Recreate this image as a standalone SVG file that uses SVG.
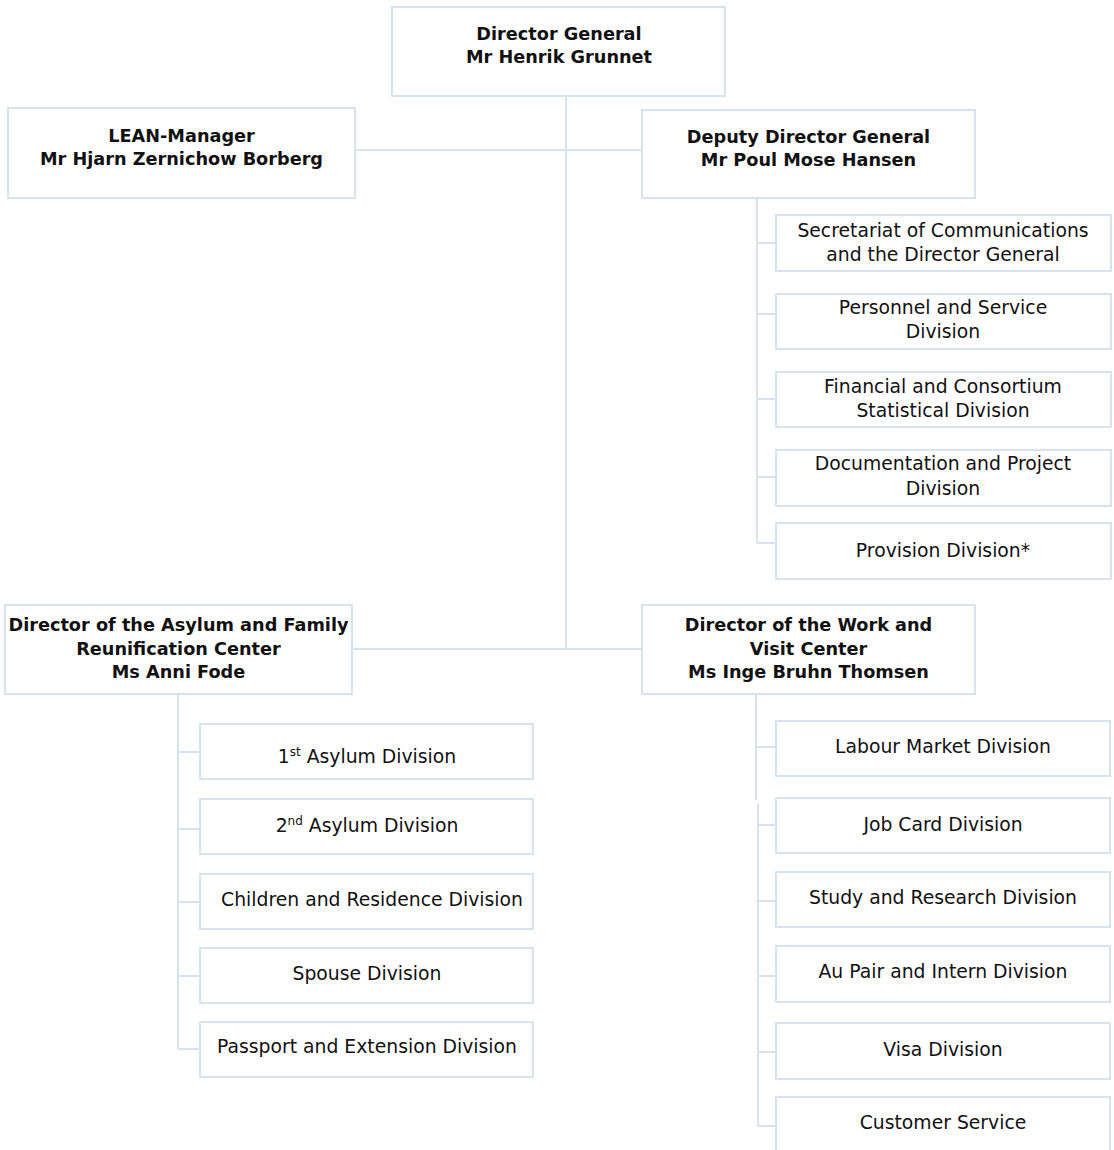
<svg xmlns="http://www.w3.org/2000/svg" width="1114" height="1150" viewBox="0 0 1114 1150">
<style>
.box{fill:#ffffff;stroke:#d5e4f0;stroke-width:2}
.ln{fill:none;stroke:#d5e4f0;stroke-width:2}
text{font-family:"DejaVu Sans","Verdana",sans-serif;fill:#111111;text-anchor:middle}
.b{font-weight:bold;font-size:17.7px}
.n{font-size:18.8px}
.sup{font-size:12px}
</style>
<rect width="1114" height="1150" fill="#ffffff"/>
<g id="connectors">
<path class="ln" d="M566 96V649"/>
<path class="ln" d="M355 150H642"/>
<path class="ln" d="M352 649H642"/>
<path class="ln" d="M757 198V543M757 243H776M757 314H778M757 399H776M757 477H776M757 543H776"/>
<path class="ln" d="M178 694V1049M178 752H200M178 829H200M178 902H200M178 976H200M178 1049H200"/>
<path class="ln" d="M756 694V800M758 804V1126M757 747H776M758 825H776M758 901H776M758 976H776M758 1052H776M758 1126H776"/>
</g>
<g id="director-general">
<rect class="box" x="392" y="7" width="333" height="89"/>
<text class="b" x="559" y="40">Director General</text>
<text class="b" x="559" y="63">Mr Henrik Grunnet</text>
</g>
<g id="lean-manager">
<rect class="box" x="8" y="108" width="347" height="90"/>
<text class="b" x="181.5" y="142">LEAN-Manager</text>
<text class="b" x="181.5" y="165">Mr Hjarn Zernichow Borberg</text>
</g>
<g id="deputy-director">
<rect class="box" x="642" y="110" width="333" height="88"/>
<text class="b" x="808.5" y="143">Deputy Director General</text>
<text class="b" x="808.5" y="166">Mr Poul Mose Hansen</text>
</g>
<g id="secretariat">
<rect class="box" x="776" y="215" width="335" height="56"/>
<text class="n" x="943" y="237">Secretariat of Communications</text>
<text class="n" x="943" y="261">and the Director General</text>
</g>
<g id="personnel">
<rect class="box" x="776" y="294" width="335" height="55"/>
<text class="n" x="943" y="314">Personnel and Service</text>
<text class="n" x="943" y="338">Division</text>
</g>
<g id="financial">
<rect class="box" x="776" y="372" width="335" height="55"/>
<text class="n" x="943" y="393">Financial and Consortium</text>
<text class="n" x="943" y="417">Statistical Division</text>
</g>
<g id="documentation">
<rect class="box" x="776" y="450" width="335" height="56"/>
<text class="n" x="943" y="470">Documentation and Project</text>
<text class="n" x="943" y="495">Division</text>
</g>
<g id="provision">
<rect class="box" x="776" y="523" width="335" height="56"/>
<text class="n" x="943" y="557">Provision Division*</text>
</g>
<g id="asylum-director">
<rect class="box" x="5" y="605" width="347" height="89"/>
<text class="b" x="178.5" y="631">Director of the Asylum and Family</text>
<text class="b" x="178.5" y="654.5">Reunification Center</text>
<text class="b" x="178.5" y="678">Ms Anni Fode</text>
</g>
<g id="work-director">
<rect class="box" x="642" y="605" width="333" height="89"/>
<text class="b" x="808.5" y="631">Director of the Work and</text>
<text class="b" x="808.5" y="654.5">Visit Center</text>
<text class="b" x="808.5" y="678">Ms Inge Bruhn Thomsen</text>
</g>
<g id="asylum-1">
<rect class="box" x="200" y="724" width="333" height="55"/>
<text class="n" x="367" y="763">1<tspan class="sup" dy="-7">st</tspan><tspan dy="7"> Asylum Division</tspan></text>
</g>
<g id="asylum-2">
<rect class="box" x="200" y="799" width="333" height="55"/>
<text class="n" x="367" y="832">2<tspan class="sup" dy="-7">nd</tspan><tspan dy="7"> Asylum Division</tspan></text>
</g>
<g id="children">
<rect class="box" x="200" y="874" width="333" height="55"/>
<text class="n" x="372" y="906">Children and Residence Division</text>
</g>
<g id="spouse">
<rect class="box" x="200" y="948" width="333" height="55"/>
<text class="n" x="367" y="980">Spouse Division</text>
</g>
<g id="passport">
<rect class="box" x="200" y="1022" width="333" height="55"/>
<text class="n" x="367" y="1053">Passport and Extension Division</text>
</g>
<g id="labour">
<rect class="box" x="776" y="721" width="334" height="55"/>
<text class="n" x="943" y="753">Labour Market Division</text>
</g>
<g id="job-card">
<rect class="box" x="776" y="798" width="334" height="55"/>
<text class="n" x="943" y="831">Job Card Division</text>
</g>
<g id="study">
<rect class="box" x="776" y="872" width="334" height="55"/>
<text class="n" x="943" y="904">Study and Research Division</text>
</g>
<g id="au-pair">
<rect class="box" x="776" y="946" width="334" height="56"/>
<text class="n" x="943" y="978">Au Pair and Intern Division</text>
</g>
<g id="visa">
<rect class="box" x="776" y="1023" width="334" height="56"/>
<text class="n" x="943" y="1056">Visa Division</text>
</g>
<g id="customer-service">
<rect class="box" x="776" y="1097" width="334" height="60"/>
<text class="n" x="943" y="1129">Customer Service</text>
</g>
</svg>
